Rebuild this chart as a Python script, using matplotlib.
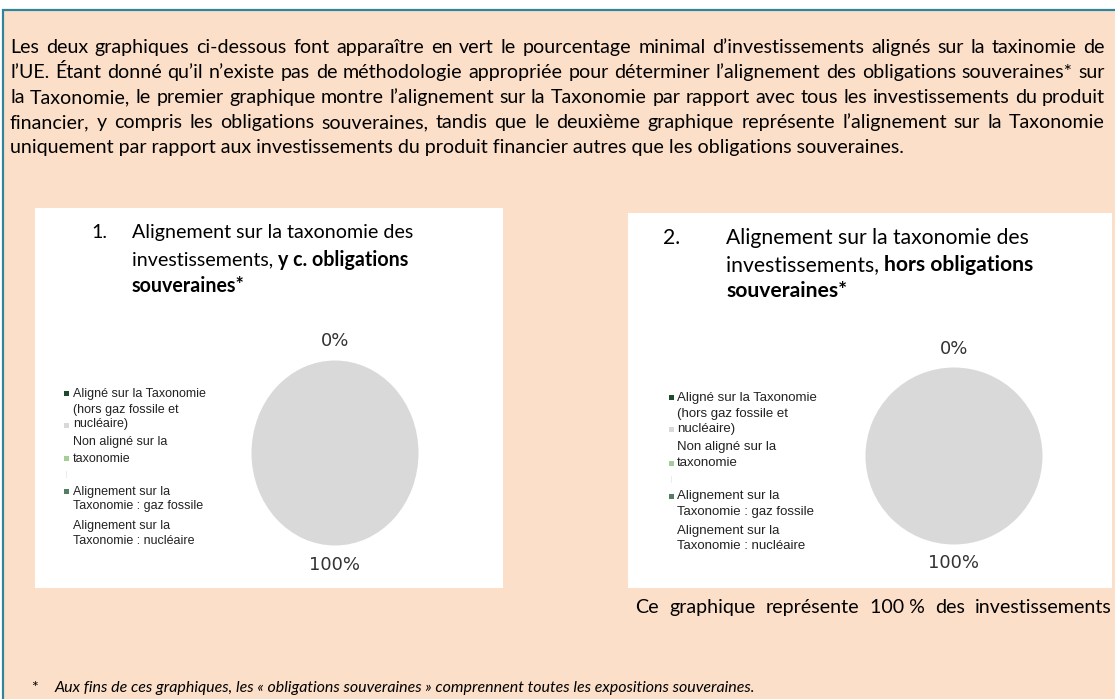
import matplotlib
matplotlib.use('Agg')
import matplotlib.pyplot as plt
from matplotlib.patches import Rectangle

W, H = 1115, 699

# pie data: share of investments per taxonomy category (%)
categories = [
    'Aligné sur la Taxonomie (hors gaz fossile et nucléaire)',
    'Non aligné sur la taxonomie',
    'Alignement sur la Taxonomie : gaz fossile',
    'Alignement sur la Taxonomie : nucléaire',
]
values_incl_sov = [0, 100, 0, 0]
values_excl_sov = [0, 100, 0, 0]
slice_colors = ['#1f4a2e', '#d9d9d9', '#a3cf96', '#527f62']

# legend text as wrapped in the source document
legend_lines = [
    'Aligné sur la Taxonomie', '(hors gaz fossile et', 'nucléaire)',
    'Non aligné sur la', 'taxonomie',
    'Alignement sur la', 'Taxonomie : gaz fossile',
    'Alignement sur la', 'Taxonomie : nucléaire',
]
legend_line_dy = [0, 15, 30, 48, 64, 97, 112, 131, 146]
legend_marker_dy = [0, 32, 65, 98]

intro_lines = [
    'Les deux graphiques ci-dessous font apparaître en vert le pourcentage minimal d’investissements alignés sur la taxinomie de',
    'l’UE. Étant donné qu’il n’existe pas de méthodologie appropriée pour déterminer l’alignement des obligations souveraines* sur',
    'la Taxonomie, le premier graphique montre l’alignement sur la Taxonomie par rapport avec tous les investissements du produit',
    'financier, y compris les obligations souveraines, tandis que le deuxième graphique représente l’alignement sur la Taxonomie',
    'uniquement par rapport aux investissements du produit financier autres que les obligations souveraines.',
]
note_words = ['Ce', 'graphique', 'représente', '100 %', 'des', 'investissements']
footnote = 'Aux fins de ces graphiques, les « obligations souveraines » comprennent toutes les expositions souveraines.'

BODY_FONT = 'Lato'
PEACH = '#fcdfc8'
TEAL = '#31849b'
VA = 'center_baseline'

fig = plt.figure(figsize=(W / 100, H / 100), dpi=100)
fig.patch.set_facecolor('white')
page = fig.add_axes([0, 0, 1, 1])
page.set_xlim(0, W)
page.set_ylim(H, 0)
page.axis('off')
renderer = fig.canvas.get_renderer()


def width_of(t):
    return t.get_window_extent(renderer).width


def fit_size(s, target, **kw):
    t = page.text(0, 0, s, fontsize=10, **kw)
    w = width_of(t)
    t.remove()
    return 10 * target / w


def justify(words, x0, x1, y, size, **kw):
    items = [page.text(0, y, w, fontsize=size, va=VA, **kw) for w in words]
    widths = [width_of(t) for t in items]
    gap = (x1 - x0 - sum(widths)) / max(len(words) - 1, 1)
    x = x0
    for t, w in zip(items, widths):
        t.set_x(x)
        x += w + gap


# frame and white chart panels
page.add_patch(Rectangle((3, 10), W + 20, H + 20, facecolor=PEACH, edgecolor=TEAL, lw=1.6))
page.add_patch(Rectangle((35, 208), 468, 380, facecolor='white', edgecolor='none'))
page.add_patch(Rectangle((628, 213), 484, 375, facecolor='white', edgecolor='none'))

# intro paragraph, justified except the last line
body_size = min(fit_size(line, 1088, family=BODY_FONT) for line in intro_lines[:-1])
for i, line in enumerate(intro_lines):
    y = 46 + 25 * i
    if i < len(intro_lines) - 1:
        justify(line.split(' '), 10, 1105, y, body_size, family=BODY_FONT)
    else:
        page.text(10, y, line, fontsize=body_size, va=VA, family=BODY_FONT)


def chart_title(num, x_num, x_txt, y0, w1, w2, plain, bold):
    size = 0.5 * (fit_size('Alignement sur la taxonomie des', w1, family=BODY_FONT)
                  + fit_size(plain + bold, w2, family=BODY_FONT, weight='bold'))
    page.text(x_num, y0, num, fontsize=size, va=VA, family=BODY_FONT)
    page.text(x_txt, y0, 'Alignement sur la taxonomie des', fontsize=size, va=VA, family=BODY_FONT)
    t = page.text(x_txt, y0 + 27, plain, fontsize=size, va=VA, family=BODY_FONT)
    page.text(x_txt + width_of(t), y0 + 27, bold, fontsize=size, va=VA,
              family=BODY_FONT, weight='bold')
    page.text(x_txt, y0 + 53, 'souveraines*', fontsize=size, va=VA,
              family=BODY_FONT, weight='bold')


chart_title('1.', 91, 132, 231, 263, 297, 'investissements, ', 'y c. obligations')
chart_title('2.', 663, 726, 236, 288, 326, 'investissements, ', 'hors obligations')


def legend(x_marker, x_text, y0, size, step):
    for line, dy in zip(legend_lines, legend_line_dy):
        page.text(x_text, y0 + dy * step, line, fontsize=size, va=VA,
                  family='Liberation Sans', color='#222222')
    for c, dy in zip(slice_colors, legend_marker_dy):
        page.add_patch(Rectangle((x_marker - 2, round(y0 + dy * step) - 2), 5, 5,
                                 facecolor=c, edgecolor='none', snap=True))
    page.add_patch(Rectangle((x_marker, y0 + 78 * step), 1, 7, facecolor='#ececec', edgecolor='none'))


legend(66, 73, 393, 9.0, 1.0)
legend(671, 677, 397, 9.5, 1.01)


def pie(cx, cy, w, h, values):
    ax = fig.add_axes([(cx - w / 2) / W, 1 - (cy + h / 2) / H, w / W, h / H])
    labels = [f'{v}%' if i < 2 else '' for i, v in enumerate(values)]
    ax.pie(values, colors=slice_colors, startangle=90, counterclock=False,
           labels=labels, labeldistance=1.21,
           textprops=dict(fontsize=13, color='#333333', family='DejaVu Sans'))
    ax.set_aspect('auto')
    ax.set_xlim(-1, 1)
    ax.set_ylim(-1, 1)
    for t in ax.texts:
        t.set_ha('center')
        t.set_va('center')


pie(335, 453, 167, 185, values_incl_sov)
pie(954, 456, 177, 177, values_excl_sov)

justify(note_words, 635, 1112, 606, body_size, family=BODY_FONT)

# footnote near the bottom edge of the frame
foot_size = fit_size(footnote, 702, family=BODY_FONT, style='italic')
page.text(31, 692, '*', fontsize=foot_size, va='baseline', family=BODY_FONT)
page.text(55, 692, footnote, fontsize=foot_size, va='baseline', family=BODY_FONT, style='italic')

fig.savefig('out.png', dpi=100, facecolor='white')
plt.close(fig)
